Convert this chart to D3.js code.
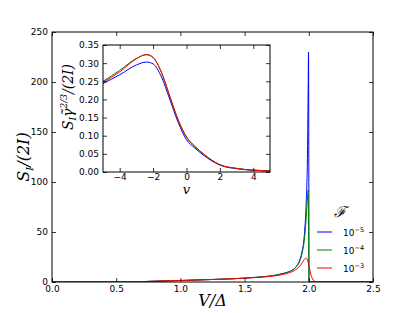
<!DOCTYPE html>
<html>
<head>
<meta charset="utf-8">
<script src="https://cdn.jsdelivr.net/npm/d3@7"></script>
<style>
  body { margin: 0; background: #fff; }
  text { font-family: "DejaVu Sans", sans-serif; }
  .tick text { font-size: 9px; }
</style>
</head>
<body>
<div id="chart"></div>
<script>
// main panel: S_I/(2I) vs V/Delta, one series per F
const mainV = [0, 0.6, 0.67, 0.7, 0.8, 0.9, 1.0, 1.2, 1.4, 1.6, 1.7, 1.8, 1.85, 1.9, 1.93, 1.95, 1.96, 1.97, 1.98, 1.99, 1.995, 1.998, 2.0, 2.002, 2.01, 2.5];
const mainBlue = [0, 0, 0, 0.3, 0.8, 1.2, 1.5, 2.3, 3.2, 4.8, 6, 8.5, 10.5, 15, 22, 32, 40, 55, 80, 130, 190, 230, 120, 0, 0, 0];
const mainGreen = [0, 0, 0, 0.3, 0.8, 1.2, 1.5, 2.3, 3.2, 4.8, 6, 8.5, 10.5, 15, 21, 30, 37, 48, 65, 85, 92, 60, 10, 0, 0, 0];
const redV = [0, 0.6, 0.67, 0.7, 0.8, 0.9, 1.0, 1.2, 1.4, 1.6, 1.7, 1.8, 1.85, 1.9, 1.93, 1.95, 1.965, 1.978, 1.99, 2.0, 2.015, 2.03, 2.045, 2.06, 2.5];
const mainRed = [0, 0, 0, 0.3, 0.8, 1.2, 1.5, 2.3, 3.2, 4.6, 5.6, 7.6, 9.3, 12.5, 16, 19.5, 22.5, 24, 22, 17, 8, 3, 0.8, 0, 0];

// inset: scaled S_I vs v
const insetV = [-5, -4, -3, -2.4, -2, -1.5, -1, -0.5, 0, 0.5, 1, 1.5, 2, 3, 4, 5];
const insetBlue = [0.244, 0.268, 0.295, 0.303, 0.298, 0.262, 0.200, 0.137, 0.089, 0.066, 0.047, 0.031, 0.019, 0.009, 0.005, 0.003];
const insetGreen = [0.250, 0.280, 0.313, 0.323, 0.315, 0.274, 0.208, 0.143, 0.096, 0.070, 0.050, 0.033, 0.020, 0.010, 0.005, 0.003];
const insetRed = [0.247, 0.276, 0.312, 0.324, 0.316, 0.275, 0.209, 0.144, 0.097, 0.071, 0.051, 0.033, 0.020, 0.010, 0.005, 0.003];

const legendExp = ["\u22125", "\u22124", "\u22123"];
const colors = ["#0000ff", "#008000", "#ff0000"];

const W = 415, H = 313;
const svg = d3.select("#chart").append("svg").attr("width", W).attr("height", H);

function panel(g, x, y, xTicks, yTicks, xFmt, yFmt, pad) {
    const h = y.range()[0], w = x.range()[1];
    g.append("g").attr("transform", `translate(0,${h})`)
        .call(d3.axisBottom(x).tickValues(xTicks).tickFormat(xFmt).tickSizeInner(-4).tickSizeOuter(0).tickPadding(pad));
    g.append("g").attr("transform", `translate(0,0)`)
        .call(d3.axisTop(x).tickValues(xTicks).tickFormat("").tickSizeInner(-4).tickSizeOuter(0));
    g.append("g")
        .call(d3.axisLeft(y).tickValues(yTicks).tickFormat(yFmt).tickSizeInner(-4).tickSizeOuter(0).tickPadding(4));
    g.append("g").attr("transform", `translate(${w},0)`)
        .call(d3.axisRight(y).tickValues(yTicks).tickFormat("").tickSizeInner(-4).tickSizeOuter(0));
    g.selectAll(".domain").remove();
    g.selectAll(".tick line").attr("stroke", "#000").attr("stroke-width", 0.8);
    g.append("rect").attr("width", w).attr("height", h)
        .attr("fill", "none").attr("stroke", "#000").attr("stroke-width", 1);
}

// main axes
const m = { left: 52, top: 32, right: 373, bottom: 282 };
const gm = svg.append("g").attr("transform", `translate(${m.left},${m.top})`);
const x = d3.scaleLinear().domain([0, 2.5]).range([0, m.right - m.left]);
const y = d3.scaleLinear().domain([0, 250]).range([m.bottom - m.top, 0]);

gm.append("clipPath").attr("id", "clipM").append("rect")
    .attr("width", m.right - m.left).attr("height", m.bottom - m.top);
const mainLine = d3.line().x(d => x(d[0])).y(d => y(d[1])).curve(d3.curveMonotoneX);
const mainSeries = [
    d3.zip(mainV, mainBlue),
    d3.zip(mainV, mainGreen),
    d3.zip(redV, mainRed)
];
mainSeries.forEach((s, i) => {
    gm.append("path").attr("d", mainLine(s)).attr("fill", "none")
        .attr("stroke", colors[i]).attr("stroke-width", 1).attr("clip-path", "url(#clipM)");
});
panel(gm, x, y, [0, 0.5, 1, 1.5, 2, 2.5], [0, 50, 100, 150, 200, 250], d3.format(".1f"), d3.format("d"), 4);

// main labels
svg.append("text").attr("transform", `translate(29,${(m.top + m.bottom) / 2}) rotate(-90)`)
    .attr("text-anchor", "middle").style("font-family", "DejaVu Serif").style("font-style", "italic").style("font-size", "16px")
    .html('S<tspan dy="4" font-size="10px">I</tspan><tspan dy="-4">/(2</tspan>I<tspan>)</tspan>');
svg.append("text").attr("x", (m.left + m.right) / 2).attr("y", 306)
    .attr("text-anchor", "middle").style("font-family", "DejaVu Serif").style("font-style", "italic").style("font-size", "16px")
    .text("V/\u0394");

// legend
const lg = svg.append("g");
lg.append("text").attr("x", 340).attr("y", 217).attr("text-anchor", "middle")
    .style("font-family", "DejaVu Serif").style("font-style", "italic").style("font-size", "15px").text("\u2131");
legendExp.forEach((e, i) => {
    const ly = 232 + i * 18;
    lg.append("line").attr("x1", 317).attr("x2", 332).attr("y1", ly).attr("y2", ly)
        .attr("stroke", colors[i]).attr("stroke-width", 1);
    lg.append("text").attr("x", 343).attr("y", ly + 3.5).style("font-size", "9px")
        .html(`10<tspan dy="-4" font-size="6.5px">${e}</tspan>`);
});

// inset axes
const n = { left: 103, top: 45, right: 270, bottom: 172 };
svg.append("rect").attr("x", n.left).attr("y", n.top).attr("width", n.right - n.left).attr("height", n.bottom - n.top).attr("fill", "#fff");
const gi = svg.append("g").attr("transform", `translate(${n.left},${n.top})`);
const xi = d3.scaleLinear().domain([-5, 5]).range([0, n.right - n.left]);
const yi = d3.scaleLinear().domain([0, 0.35]).range([n.bottom - n.top, 0]);
gi.append("clipPath").attr("id", "clipI").append("rect")
    .attr("width", n.right - n.left).attr("height", n.bottom - n.top);
const insetLine = d3.line().x(d => xi(d[0])).y(d => yi(d[1])).curve(d3.curveMonotoneX);
[insetBlue, insetGreen, insetRed].forEach((s, i) => {
    gi.append("path").attr("d", insetLine(d3.zip(insetV, s))).attr("fill", "none")
        .attr("stroke", colors[i]).attr("stroke-width", 1).attr("clip-path", "url(#clipI)");
});
panel(gi, xi, yi, [-4, -2, 0, 2, 4], [0, 0.05, 0.1, 0.15, 0.2, 0.25, 0.3, 0.35],
    d => d3.format("d")(d).replace("-", "\u2212"), d3.format(".2f"), 2);

svg.append("text").attr("transform", `translate(73,97) rotate(-90)`)
    .attr("text-anchor", "middle").style("font-family", "DejaVu Serif").style("font-style", "italic").style("font-size", "14px")
    .html('S<tspan dy="3" font-size="9px">I</tspan><tspan dy="-3">\u03B3\u0303</tspan><tspan dy="-6" font-size="9px">2/3</tspan><tspan dy="6">/(2</tspan>I<tspan>)</tspan>');
svg.append("text").attr("x", xi(0) + n.left).attr("y", 194)
    .attr("text-anchor", "middle").style("font-family", "DejaVu Serif").style("font-style", "italic").style("font-size", "13px")
    .text("v");
</script>
</body>
</html>
